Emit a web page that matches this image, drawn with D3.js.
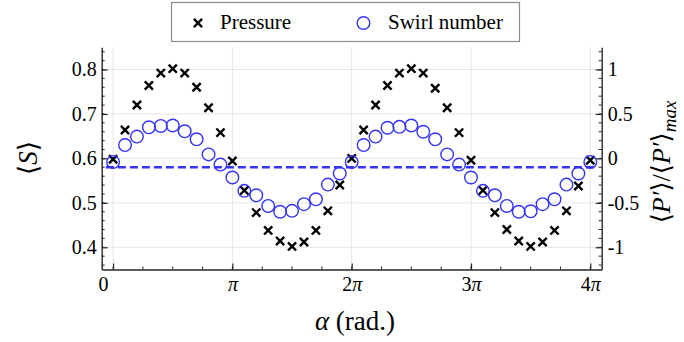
<!DOCTYPE html>
<html><head><meta charset="utf-8">
<script src="https://cdn.jsdelivr.net/npm/d3@7"></script>
<style>
html,body{margin:0;padding:0;background:#fff;}
svg{display:block;}
</style></head>
<body><svg id="chart" width="684" height="342"></svg>
<script>
// ---- data ----
const alphaOverPi = [0,0.1,0.2,0.3,0.4,0.5,0.6,0.7,0.8,0.9,1,1.1,1.2,1.3,1.4,1.5,1.6,1.7,1.8,1.9,2,
  2.1,2.2,2.3,2.4,2.5,2.6,2.7,2.8,2.9,3,3.1,3.2,3.3,3.4,3.5,3.6,3.7,3.8,3.9,4];
const pressure = [-0.01,0.32,0.60,0.82,0.96,1.01,0.96,0.80,0.57,0.29,-0.03,-0.36,-0.61,-0.81,-0.93,-0.99,-0.94,-0.81,-0.59,-0.30,0.00,
  0.32,0.60,0.82,0.96,1.01,0.96,0.79,0.57,0.29,-0.02,-0.36,-0.61,-0.80,-0.93,-0.99,-0.94,-0.81,-0.59,-0.31,-0.02];
const swirl = [0.592,0.630,0.649,0.670,0.673,0.674,0.661,0.643,0.609,0.586,0.557,0.527,0.517,0.493,0.480,0.482,0.497,0.508,0.541,0.566,0.592,
  0.630,0.649,0.669,0.671,0.674,0.660,0.643,0.609,0.586,0.557,0.527,0.517,0.493,0.480,0.481,0.497,0.508,0.541,0.566,0.592];
const meanSwirl = 0.58;
const meanLineAlpha = [-0.19, 12.73];
const xTickMultiples = [0,1,2,3,4];
const xTickLabels = ["0","π","2π","3π","4π"];
const leftTicks = [0.4,0.5,0.6,0.7,0.8];
const rightTicks = [-1,-0.5,0,0.5,1];
const rightTickLabels = ["-1","-0.5","0","0.5","1"];
const legendLabels = ["Pressure","Swirl number"];

// ---- layout ----
const SERIF = '"Liberation Serif", "Times New Roman", Times, "DejaVu Serif", serif';
const svg = d3.select("#chart");
const L = 101.7, R = 601.7, T = 47, B = 269.5;
const x = d3.scaleLinear().domain([-0.3, 4*Math.PI+0.3]).range([L, R]);
const yL = d3.scaleLinear().domain([0.35, 0.85]).range([B, 47.3]);
const yR = d3.scaleLinear().domain([-1.25, 1.25]).range([B, 47.3]);
const blue = "#3434f4";
const axisCol = "#262626";

// grid
const grid = svg.append("g");
grid.selectAll(".gx").data(xTickMultiples).join("line")
  .attr("x1", d=>x(d*Math.PI)).attr("x2", d=>x(d*Math.PI))
  .attr("y1", T).attr("y2", B).attr("stroke","#e6e6e6").attr("stroke-width",1);
grid.selectAll(".gy").data(leftTicks).join("line")
  .attr("x1", L).attr("x2", R).attr("y1", d=>yL(d)).attr("y2", d=>yL(d))
  .attr("stroke","#e6e6e6").attr("stroke-width",1);

// axes
function styleAxis(g){
  g.attr("font-family", null).attr("font-size", null);
  g.select(".domain").attr("stroke",axisCol).attr("stroke-width",1.4);
  g.selectAll(".tick line").attr("stroke",axisCol).attr("stroke-width",1.2);
  g.selectAll("text").style("font-family",SERIF).style("font-size","20px").attr("fill","#000");
}
const minorL = d3.range(18,43).map(k=>k*0.02);
const minorR = d3.range(-12,13).map(k=>k*0.1);
const minorX = d3.range(-1,18).map(k=>k*Math.PI/4).filter(v=>v>=-0.3&&v<=4*Math.PI+0.3);

const gL = svg.append("g").attr("transform",`translate(${L},0)`)
  .call(d3.axisLeft(yL).tickValues(leftTicks).tickSizeInner(-6).tickSizeOuter(0).tickPadding(5).tickFormat(d3.format(".1f")));
styleAxis(gL);
gL.append("g").selectAll("line").data(minorL).join("line")
  .attr("x1",0).attr("x2",3).attr("y1",d=>yL(d)).attr("y2",d=>yL(d)).attr("stroke",axisCol).attr("stroke-width",1);

const gR = svg.append("g").attr("transform",`translate(${R},0)`)
  .call(d3.axisRight(yR).tickValues(rightTicks).tickSizeInner(-6).tickSizeOuter(0).tickPadding(6).tickFormat((d,i)=>rightTickLabels[i]));
styleAxis(gR);
gR.append("g").selectAll("line").data(minorR).join("line")
  .attr("x1",0).attr("x2",-3).attr("y1",d=>yR(d)).attr("y2",d=>yR(d)).attr("stroke",axisCol).attr("stroke-width",1);

const gB = svg.append("g").attr("transform",`translate(0,${B})`)
  .call(d3.axisBottom(x).tickValues(xTickMultiples.map(d=>d*Math.PI)).tickSizeInner(-6).tickSizeOuter(0).tickPadding(7).tickFormat((d,i)=>xTickLabels[i]));
styleAxis(gB);
gB.selectAll(".tick text").text(null).each(function(d,i){
  const t = d3.select(this); const s = xTickLabels[i];
  if (s.includes("π")) {
    const n = s.replace("π","");
    if (n) t.append("tspan").text(n);
    t.append("tspan").style("font-style","italic").text("π");
  } else t.text(s).attr("dx", -10);
});
gB.append("g").selectAll("line").data(minorX).join("line")
  .attr("x1",d=>x(d)).attr("x2",d=>x(d)).attr("y1",0).attr("y2",-3).attr("stroke",axisCol).attr("stroke-width",1);

// mean dashed line
svg.append("line")
  .attr("x1",x(meanLineAlpha[0])).attr("x2",x(meanLineAlpha[1]))
  .attr("y1",yL(meanSwirl)).attr("y2",yL(meanSwirl))
  .attr("stroke",blue).attr("stroke-width",2.6).attr("stroke-dasharray","8,4");

// pressure crosses
const cr = 4.1;
svg.append("g").selectAll("path").data(alphaOverPi).join("path")
  .attr("d",(d,i)=>{const cx=x(d*Math.PI), cy=yR(pressure[i]);
    return `M${cx-cr},${cy-cr}L${cx+cr},${cy+cr}M${cx-cr},${cy+cr}L${cx+cr},${cy-cr}`;})
  .attr("stroke","#000").attr("stroke-width",2.4).attr("fill","none");

// swirl circles
svg.append("g").selectAll("circle").data(alphaOverPi).join("circle")
  .attr("cx",d=>x(d*Math.PI)).attr("cy",(d,i)=>yL(swirl[i])).attr("r",6.3)
  .attr("fill","none").attr("stroke",blue).attr("stroke-width",1.4);

// axis titles
function t(sel){ return sel.style("font-family",SERIF).attr("fill","#000"); }
const lt = t(svg.append("text")).attr("transform","translate(37,158) rotate(-90)")
  .attr("text-anchor","middle").style("font-size","27px");
lt.append("tspan").text("⟨");
lt.append("tspan").style("font-style","italic").text("S");
lt.append("tspan").text("⟩");

const bt = t(svg.append("text")).attr("x",355).attr("y",330).attr("text-anchor","middle").style("font-size","27px");
bt.append("tspan").style("font-style","italic").text("α");
bt.append("tspan").text(" (rad.)");

const rt = t(svg.append("text")).attr("transform","translate(670,162) rotate(-90)")
  .attr("text-anchor","middle").style("font-size","26px");
rt.append("tspan").text("⟨");
rt.append("tspan").style("font-style","italic").text("P′");
rt.append("tspan").text("⟩/⟨");
rt.append("tspan").style("font-style","italic").text("P′");
rt.append("tspan").text("⟩");
rt.append("tspan").style("font-style","italic").style("font-size","19px").attr("dy",6).text("max");

// legend
const lg = svg.append("g");
lg.append("rect").attr("x",171.5).attr("y",2.5).attr("width",348).attr("height",39)
  .attr("fill","#fff").attr("stroke","#8c8c8c").attr("stroke-width",1.2);
const lx = 198, ly = 23;
lg.append("path").attr("d",`M${lx-cr},${ly-cr}L${lx+cr},${ly+cr}M${lx-cr},${ly+cr}L${lx+cr},${ly-cr}`)
  .attr("stroke","#000").attr("stroke-width",2.4);
t(lg.append("text")).attr("x",220).attr("y",29).style("font-size","21px").text(legendLabels[0]);
lg.append("circle").attr("cx",363.5).attr("cy",23).attr("r",6.3).attr("fill","none").attr("stroke",blue).attr("stroke-width",1.4);
t(lg.append("text")).attr("x",388).attr("y",29).style("font-size","21px").text(legendLabels[1]);
</script></body></html>
